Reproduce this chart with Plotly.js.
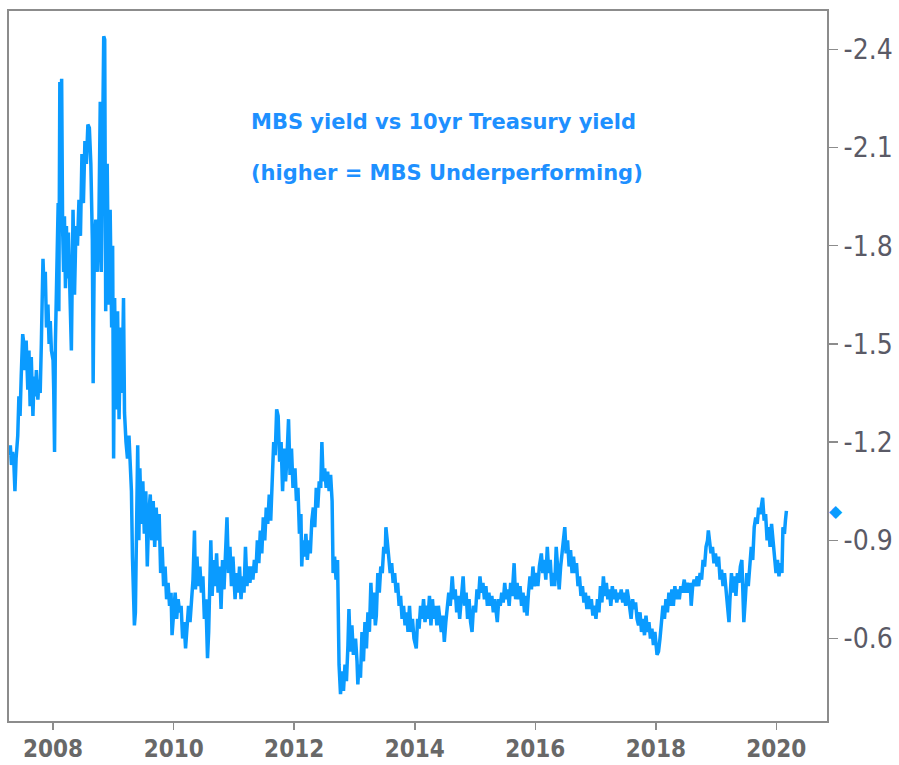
<!DOCTYPE html>
<html>
<head>
<meta charset="utf-8">
<script src="https://cdn.plot.ly/plotly-3.0.0.min.js"></script>
<style>html,body{margin:0;padding:0;background:#fff;}#chart{width:899px;height:765px;}</style>
</head>
<body>
<div id="chart"></div>
<script>
const dates = [
'2007-04-10','2007-04-17','2007-04-24','2007-05-01','2007-05-08','2007-05-15','2007-05-22','2007-06-01','2007-06-08','2007-06-15','2007-06-22',
'2007-07-01','2007-07-08','2007-07-15','2007-07-22','2007-08-01','2007-08-08','2007-08-15','2007-08-22','2007-09-01','2007-09-08','2007-09-15','2007-09-22',
'2007-10-01','2007-10-08','2007-10-15','2007-10-22','2007-11-01','2007-11-08','2007-11-15','2007-11-22','2007-12-01','2007-12-08','2007-12-15','2007-12-22',
'2008-01-01','2008-01-05','2008-01-10','2008-01-15','2008-01-21','2008-02-01','2008-02-05','2008-02-11','2008-02-16','2008-02-22','2008-02-28',
'2008-03-05','2008-03-10','2008-03-16','2008-03-22','2008-03-28','2008-04-03','2008-04-11','2008-04-21','2008-05-01','2008-05-10','2008-05-19','2008-05-28',
'2008-06-06','2008-06-15','2008-06-24','2008-07-03','2008-07-12','2008-07-21','2008-07-30','2008-08-08','2008-08-17','2008-08-26','2008-08-31',
'2008-09-07','2008-09-16','2008-09-25','2008-10-04','2008-10-13','2008-10-19','2008-10-28','2008-11-03','2008-11-09','2008-11-15','2008-11-24',
'2008-12-03','2008-12-12','2008-12-21','2008-12-27',
'2009-01-02','2009-01-08','2009-01-17','2009-01-26','2009-02-04','2009-02-13','2009-02-22','2009-03-03','2009-03-09','2009-03-18','2009-03-27',
'2009-04-05','2009-04-14','2009-04-20','2009-04-26','2009-05-02','2009-05-08','2009-05-14','2009-05-20','2009-05-28','2009-06-04','2009-06-10',
'2009-06-19','2009-06-28','2009-07-07','2009-07-16','2009-07-25','2009-08-03','2009-08-12','2009-08-21','2009-08-30','2009-09-08','2009-09-17',
'2009-09-26','2009-10-05','2009-10-14','2009-10-23','2009-11-01','2009-11-10','2009-11-19','2009-11-28','2009-12-07','2009-12-16','2009-12-22',
'2010-01-01','2010-01-10','2010-01-19','2010-01-28','2010-02-06','2010-02-15','2010-02-24','2010-03-05','2010-03-14','2010-03-23','2010-04-01',
'2010-04-10','2010-04-19','2010-04-28','2010-05-07','2010-05-13','2010-05-22','2010-05-31','2010-06-09','2010-06-18','2010-06-27','2010-07-06',
'2010-07-15','2010-07-25','2010-08-01','2010-08-10','2010-08-14','2010-08-22','2010-08-31','2010-09-09','2010-09-18','2010-09-27','2010-10-06',
'2010-10-15','2010-10-24','2010-11-02','2010-11-11','2010-11-20','2010-11-29','2010-12-08','2010-12-17','2010-12-26',
'2011-01-08','2011-01-17','2011-01-26','2011-02-04','2011-02-13','2011-02-22','2011-03-03','2011-03-12','2011-03-21','2011-03-30','2011-04-08',
'2011-04-17','2011-04-26','2011-05-05','2011-05-14','2011-05-23','2011-06-01','2011-06-10','2011-06-19','2011-06-28','2011-07-07','2011-07-16',
'2011-07-25','2011-08-03','2011-08-12','2011-08-21','2011-08-30','2011-09-08','2011-09-17','2011-09-26','2011-10-05','2011-10-14','2011-10-23',
'2011-11-01','2011-11-10','2011-11-19','2011-11-28','2011-12-07','2011-12-16','2011-12-25',
'2012-01-06','2012-01-15','2012-01-24','2012-02-02','2012-02-11','2012-02-16','2012-02-23','2012-03-03','2012-03-12','2012-03-21','2012-03-30',
'2012-04-08','2012-04-17','2012-04-26','2012-05-05','2012-05-14','2012-05-23','2012-06-01','2012-06-10','2012-06-17','2012-06-25','2012-07-04',
'2012-07-13','2012-07-22','2012-07-31','2012-08-09','2012-08-18','2012-08-24','2012-09-02','2012-09-11','2012-09-20','2012-09-29','2012-10-08',
'2012-10-17','2012-10-26','2012-11-04','2012-11-13','2012-11-22','2012-11-28','2012-12-07','2012-12-16','2012-12-25',
'2013-01-07','2013-01-16','2013-01-21','2013-01-28','2013-02-06','2013-02-15','2013-02-24','2013-03-05','2013-03-14','2013-03-23','2013-04-01',
'2013-04-10','2013-04-19','2013-04-28','2013-05-07','2013-05-13','2013-05-22','2013-05-31','2013-06-09','2013-06-18','2013-06-27','2013-07-06',
'2013-07-10','2013-07-18','2013-07-27','2013-08-05','2013-08-14','2013-08-23','2013-09-01','2013-09-10','2013-09-19','2013-09-28','2013-10-07',
'2013-10-16','2013-10-25','2013-11-03','2013-11-12','2013-11-21','2013-11-30','2013-12-09','2013-12-18','2013-12-27',
'2014-01-10','2014-01-18','2014-01-27','2014-02-05','2014-02-14','2014-02-23','2014-03-04','2014-03-13','2014-03-22','2014-03-31','2014-04-09',
'2014-04-18','2014-04-27','2014-05-06','2014-05-15','2014-05-24','2014-06-02','2014-06-11','2014-06-20','2014-06-29','2014-07-08','2014-07-17',
'2014-07-26','2014-08-04','2014-08-16','2014-08-25','2014-09-03','2014-09-12','2014-09-21','2014-09-30','2014-10-09','2014-10-21','2014-10-30',
'2014-11-08','2014-11-17','2014-11-26','2014-12-05','2014-12-14','2014-12-23',
'2015-01-04','2015-01-13','2015-01-22','2015-01-31','2015-02-09','2015-02-18','2015-02-27','2015-03-08','2015-03-17','2015-03-26','2015-04-04',
'2015-04-13','2015-04-22','2015-05-01','2015-05-10','2015-05-16','2015-05-25','2015-06-03','2015-06-12','2015-06-21','2015-06-30','2015-07-09',
'2015-07-18','2015-07-27','2015-08-05','2015-08-14','2015-08-26','2015-09-04','2015-09-13','2015-09-22','2015-10-01','2015-10-10','2015-10-19',
'2015-10-28','2015-11-06','2015-11-12','2015-11-21','2015-11-30','2015-12-09','2015-12-18','2015-12-27',
'2016-01-08','2016-01-17','2016-01-26','2016-02-07','2016-02-16','2016-02-25','2016-03-05','2016-03-14','2016-03-23','2016-04-01','2016-04-10',
'2016-04-19','2016-04-28','2016-05-07','2016-05-16','2016-05-25','2016-06-03','2016-06-12','2016-06-21','2016-06-28','2016-07-06','2016-07-15',
'2016-07-24','2016-08-02','2016-08-11','2016-08-20','2016-08-29','2016-09-07','2016-09-16','2016-09-25','2016-10-04','2016-10-13','2016-10-22',
'2016-10-31','2016-11-09','2016-11-18','2016-11-27','2016-12-06','2016-12-15','2016-12-24',
'2017-01-03','2017-01-12','2017-01-21','2017-01-30','2017-02-08','2017-02-17','2017-02-26','2017-03-07','2017-03-16','2017-03-25','2017-04-03',
'2017-04-12','2017-04-21','2017-04-30','2017-05-09','2017-05-18','2017-05-27','2017-06-05','2017-06-14','2017-06-23','2017-07-02','2017-07-11',
'2017-07-20','2017-07-29','2017-08-04','2017-08-13','2017-08-22','2017-08-31','2017-09-09','2017-09-18','2017-09-27','2017-10-06','2017-10-15',
'2017-10-24','2017-11-02','2017-11-11','2017-11-20','2017-11-29','2017-12-08','2017-12-17','2017-12-26',
'2018-01-08','2018-01-17','2018-01-26','2018-02-04','2018-02-13','2018-02-22','2018-03-03','2018-03-12','2018-03-21','2018-03-30','2018-04-08',
'2018-04-17','2018-04-26','2018-05-05','2018-05-14','2018-05-23','2018-06-01','2018-06-10','2018-06-22','2018-07-01','2018-07-10','2018-07-19',
'2018-07-28','2018-08-03','2018-08-12','2018-08-21','2018-08-30','2018-09-08','2018-09-17','2018-09-26','2018-10-05','2018-10-14','2018-10-23',
'2018-11-01','2018-11-10','2018-11-15','2018-11-22','2018-12-01','2018-12-10','2018-12-19','2018-12-28',
'2019-01-07','2019-01-16','2019-01-25','2019-02-03','2019-02-12','2019-02-21','2019-03-02','2019-03-11','2019-03-20','2019-03-26','2019-04-04',
'2019-04-13','2019-04-22','2019-05-01','2019-05-10','2019-05-19','2019-05-28','2019-06-06','2019-06-12','2019-06-18','2019-06-27','2019-07-06',
'2019-07-15','2019-07-24','2019-08-02','2019-08-11','2019-08-20','2019-08-29','2019-09-07','2019-09-16','2019-09-25','2019-10-04','2019-10-10',
'2019-10-19','2019-10-28','2019-11-06','2019-11-15','2019-11-24','2019-12-03','2019-12-12','2019-12-21','2019-12-30',
'2020-01-08','2020-01-17','2020-01-26','2020-02-04','2020-02-10','2020-02-19','2020-02-25','2020-03-02'
];
const spread = [
-1.16,-1.19,-1.13,-1.17,-1.14,-1.05,-1.15,-1.22,-1.34,-1.28,-1.40,
-1.53,-1.50,-1.42,-1.51,-1.36,-1.48,-1.31,-1.46,-1.28,-1.40,-1.34,-1.42,
-1.33,-1.39,-1.35,-1.50,-1.76,-1.66,-1.72,-1.55,-1.62,-1.50,-1.57,-1.48,
-1.45,-1.36,-1.17,-1.50,-1.62,-1.93,-1.60,-2.30,-2.08,-2.31,-1.85,
-1.72,-1.89,-1.67,-1.86,-1.70,-1.84,-1.70,-1.48,-1.91,-1.65,-1.86,-1.80,
-1.94,-1.83,-2.08,-1.93,-2.12,-2.05,-2.17,-2.16,-2.05,-1.82,-1.38,
-1.80,-1.88,-1.72,-1.84,-2.24,-1.72,-2.10,-2.44,-2.43,-1.60,-2.05,
-1.62,-1.91,-1.55,-1.80,
-1.15,-1.64,-1.30,-1.60,-1.27,-1.55,-1.35,-1.64,-1.29,-1.20,-1.15,
-1.22,-1.09,-1.05,-0.85,-0.72,-0.64,-0.68,-0.90,-1.19,-0.90,-1.12,
-0.95,-1.08,-0.92,-1.05,-0.82,-0.98,-1.04,-0.90,-1.02,-0.88,-1.00,
-0.90,-0.98,-0.80,-0.88,-0.76,-0.82,-0.72,-0.77,-0.70,-0.74,-0.61,
-0.68,-0.74,-0.66,-0.72,-0.68,-0.70,-0.60,-0.65,-0.57,-0.64,-0.70,
-0.65,-0.71,-0.78,-0.93,-0.75,-0.85,-0.76,-0.82,-0.74,-0.79,-0.66,
-0.72,-0.54,-0.62,-0.76,-0.90,-0.73,-0.84,-0.76,-0.86,-0.74,-0.82,
-0.69,-0.84,-0.75,-0.87,-0.97,-0.80,-0.88,-0.76,-0.85,
-0.72,-0.80,-0.74,-0.82,-0.72,-0.79,-0.74,-0.88,-0.76,-0.82,-0.77,
-0.82,-0.78,-0.84,-0.80,-0.90,-0.83,-0.93,-0.86,-0.97,-0.90,-1.00,
-0.95,-1.04,-0.96,-1.12,-1.20,-1.16,-1.30,-1.28,-1.14,-1.20,-1.05,
-1.18,-1.08,-1.16,-1.27,-1.10,-1.18,-1.06,
-1.12,-1.02,-1.06,-0.92,-0.98,-0.82,-0.90,-0.85,-0.92,-0.84,-0.90,
-0.86,-0.96,-1.00,-0.94,-1.06,-1.00,-1.08,-1.06,-1.20,-1.08,-1.12,
-1.06,-1.11,-1.05,-1.10,-1.02,-0.80,-0.85,-0.78,-0.84,-0.52,-0.43,
-0.50,-0.44,-0.52,-0.47,-0.58,-0.69,-0.56,-0.64,-0.55,
-0.60,-0.53,-0.46,-0.52,-0.48,-0.62,-0.53,-0.65,-0.57,-0.68,-0.62,
-0.77,-0.66,-0.74,-0.64,-0.67,-0.80,-0.74,-0.82,-0.80,-0.88,-0.86,
-0.94,-0.90,-0.84,-0.80,-0.83,-0.77,-0.80,-0.74,-0.77,-0.70,-0.73,
-0.66,-0.70,-0.64,-0.68,-0.62,-0.70,-0.62,-0.66,-0.60,
-0.57,-0.66,-0.63,-0.70,-0.66,-0.72,-0.65,-0.70,-0.66,-0.73,-0.64,
-0.72,-0.66,-0.70,-0.64,-0.70,-0.66,-0.62,-0.67,-0.59,-0.65,-0.70,
-0.74,-0.70,-0.79,-0.72,-0.75,-0.68,-0.73,-0.66,-0.72,-0.79,-0.70,
-0.74,-0.66,-0.72,-0.65,-0.62,-0.70,
-0.68,-0.75,-0.72,-0.79,-0.74,-0.77,-0.72,-0.76,-0.70,-0.74,-0.70,
-0.73,-0.68,-0.72,-0.67,-0.65,-0.72,-0.70,-0.74,-0.71,-0.77,-0.72,
-0.75,-0.70,-0.77,-0.73,-0.83,-0.72,-0.77,-0.72,-0.76,-0.70,-0.74,
-0.68,-0.73,-0.67,-0.74,-0.79,-0.75,-0.82,-0.76,
-0.80,-0.76,-0.82,-0.86,-0.80,-0.84,-0.78,-0.88,-0.80,-0.84,-0.76,
-0.80,-0.76,-0.88,-0.82,-0.75,-0.82,-0.86,-0.90,-0.94,-0.86,-0.90,
-0.82,-0.87,-0.80,-0.85,-0.80,-0.83,-0.76,-0.79,-0.73,-0.76,-0.71,
-0.74,-0.69,-0.73,-0.69,-0.72,-0.67,-0.70,
-0.66,-0.72,-0.68,-0.76,-0.71,-0.79,-0.73,-0.77,-0.72,-0.75,-0.70,
-0.76,-0.72,-0.75,-0.71,-0.74,-0.72,-0.75,-0.71,-0.74,-0.70,-0.75,
-0.72,-0.68,-0.66,-0.72,-0.69,-0.71,-0.66,-0.64,-0.68,-0.62,-0.66,
-0.61,-0.67,-0.62,-0.65,-0.60,-0.63,-0.58,-0.62,
-0.55,-0.56,-0.60,-0.65,-0.70,-0.66,-0.72,-0.68,-0.74,-0.70,-0.75,
-0.70,-0.76,-0.72,-0.75,-0.72,-0.76,-0.74,-0.78,-0.74,-0.77,-0.74,
-0.77,-0.70,-0.76,-0.78,-0.76,-0.79,-0.76,-0.80,-0.78,-0.84,-0.82,
-0.88,-0.90,-0.93,-0.89,-0.86,-0.88,-0.83,-0.86,
-0.82,-0.85,-0.78,-0.81,-0.76,-0.80,-0.74,-0.70,-0.65,-0.72,-0.80,
-0.74,-0.79,-0.73,-0.80,-0.77,-0.82,-0.84,-0.72,-0.65,-0.72,-0.80,
-0.76,-0.82,-0.88,-0.84,-0.94,-0.97,-0.95,-1.00,-0.98,-1.01,-1.03,
-0.96,-0.98,-0.90,-0.94,-0.88,-0.95,-0.90,-0.84,-0.80,
-0.84,-0.79,-0.83,-0.80,-0.94,-0.92,-0.96,-0.99
];
const xTickVals = ['2008-01-01','2010-01-01','2012-01-01','2014-01-01','2016-01-01','2018-01-01','2020-01-01'];
const xTickText = ['2008','2010','2012','2014','2016','2018','2020'];
const yTickVals = [-2.4,-2.1,-1.8,-1.5,-1.2,-0.9,-0.6];
const yTickText = ['-2.4','-2.1','-1.8','-1.5','-1.2','-0.9','-0.6'];
const titleLine1 = 'MBS yield vs 10yr Treasury yield';
const titleLine2 = '(higher = MBS Underperforming)';

const lineColor = '#0a9bff';
const axisColor = '#8c8c8c';

const trace = {
  type: 'scatter', mode: 'lines', x: dates, y: spread,
  line: {color: lineColor, width: 3.5}, hoverinfo: 'skip', showlegend: false
};

const layout = {
  width: 899, height: 765,
  margin: {l: 9, r: 72, t: 11, b: 44, pad: 0},
  paper_bgcolor: '#ffffff', plot_bgcolor: '#ffffff',
  showlegend: false,
  xaxis: {
    type: 'date', range: ['2007-04-09', '2020-11-03'],
    tickmode: 'array', tickvals: xTickVals, ticktext: xTickText,
    showgrid: false, zeroline: false,
    showline: true, mirror: true, linecolor: axisColor, linewidth: 2,
    ticks: 'outside', ticklen: 7, tickwidth: 1.5, tickcolor: axisColor,
    ticklabelstandoff: -2,
    tickfont: {family: 'DejaVu Sans Condensed', size: 24, color: '#686868', weight: 'bold'}
  },
  yaxis: {
    side: 'right', range: [-0.348, -2.517],
    tickmode: 'array', tickvals: yTickVals, ticktext: yTickText,
    showgrid: false, zeroline: false,
    showline: true, mirror: true, linecolor: axisColor, linewidth: 2,
    ticks: 'outside', ticklen: 9, tickwidth: 1.5, tickcolor: axisColor,
    tickfont: {family: 'DejaVu Sans Condensed', size: 28, color: '#5a5a66'}
  },
  annotations: [
    {xref: 'paper', yref: 'paper', x: 0.294, y: 0.8436, xanchor: 'left', yanchor: 'middle',
     text: titleLine1, showarrow: false,
     font: {family: 'DejaVu Sans', size: 21, color: '#1e90ff', weight: 'bold'}},
    {xref: 'paper', yref: 'paper', x: 0.294, y: 0.7717, xanchor: 'left', yanchor: 'middle',
     text: titleLine2, showarrow: false,
     font: {family: 'DejaVu Sans', size: 21, color: '#1e90ff', weight: 'bold'}},
    {xref: 'paper', yref: 'y', x: 1, y: spread[spread.length - 1], xanchor: 'center', yanchor: 'middle',
     xshift: 9, text: '\u25C6', showarrow: false,
     font: {family: 'DejaVu Sans', size: 17, color: lineColor}}
  ]
};

Plotly.newPlot('chart', [trace], layout, {staticPlot: true, displayModeBar: false});
</script>
</body>
</html>
